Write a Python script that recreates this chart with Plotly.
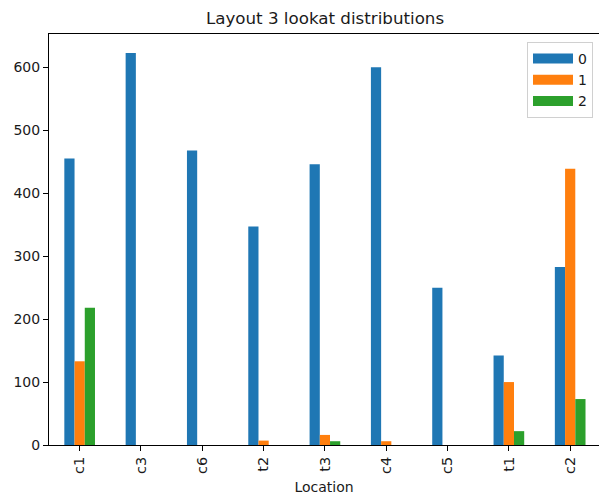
import plotly.graph_objects as go

# Lookat counts per location, one series per lookat class
locations = ["c1", "c3", "c6", "t2", "t3", "c4", "c5", "t1", "c2"]
series_names = ["0", "1", "2"]
counts_0 = [455, 623, 468, 347, 446, 600, 250, 142, 283]
counts_1 = [133, 0, 0, 7, 16, 6, 0, 100, 439]
counts_2 = [218, 0, 0, 0, 6, 0, 0, 22, 73]
y_ticks = [0, 100, 200, 300, 400, 500, 600]

colors = ["#1f77b4", "#ff7f0e", "#2ca02c"]
font_family = "DejaVu Sans"

W, H = 599, 500
left, right, top, bottom = 49, 0, 34, 55

fig = go.Figure()
for name, vals, col in zip(series_names, [counts_0, counts_1, counts_2], colors):
    fig.add_trace(go.Bar(
        x=locations, y=vals, name=name,
        marker=dict(color=col, line=dict(width=0)),
        showlegend=False,
    ))
    # wide patch in the legend, like the classic matplotlib handles
    fig.add_trace(go.Scatter(
        x=[None], y=[None], mode="lines", name=name,
        line=dict(color=col, width=10),
        showlegend=True,
    ))

fig.update_layout(
    width=W, height=H,
    margin=dict(l=left, r=right, t=top, b=bottom, pad=0),
    paper_bgcolor="white", plot_bgcolor="white",
    font=dict(family=font_family, size=14, color="#1a1a1a"),
    barmode="group", bargap=0.5, bargroupgap=0,
    title=dict(
        text="Layout 3 lookat distributions",
        font=dict(size=16.7, color="#1a1a1a"),
        x=(325 - left) / (W - left), xref="paper", xanchor="center",
        y=1 - 18 / H, yref="container", yanchor="middle",
    ),
    legend=dict(
        x=(593 - left) / (W - left), xanchor="right",
        y=(445 - 42) / (H - top - bottom), yanchor="top",
        bgcolor="rgba(255,255,255,0.8)", bordercolor="#d0d0d0", borderwidth=1,
        font=dict(size=14, color="#1a1a1a"),
        itemwidth=40,
    ),
    showlegend=True,
)

fig.update_xaxes(
    type="category", categoryorder="array", categoryarray=locations,
    range=[-0.5, 8.47],
    showline=True, linecolor="black", linewidth=1, mirror=True,
    ticks="outside", ticklen=5, tickcolor="black", tickwidth=1,
    tickangle=-90, showgrid=False, zeroline=False,
    tickfont=dict(size=14.5),
    title=dict(text="Location", font=dict(size=14, color="#1a1a1a"), standoff=9),
)
fig.update_yaxes(
    range=[0, 653],
    tickvals=y_ticks, ticktext=[str(v) for v in y_ticks],
    showline=True, linecolor="black", linewidth=1, mirror=False,
    ticks="outside", ticklen=5, tickcolor="black", tickwidth=1,
    showgrid=False, zeroline=False,
)

fig.write_html("out.html")
